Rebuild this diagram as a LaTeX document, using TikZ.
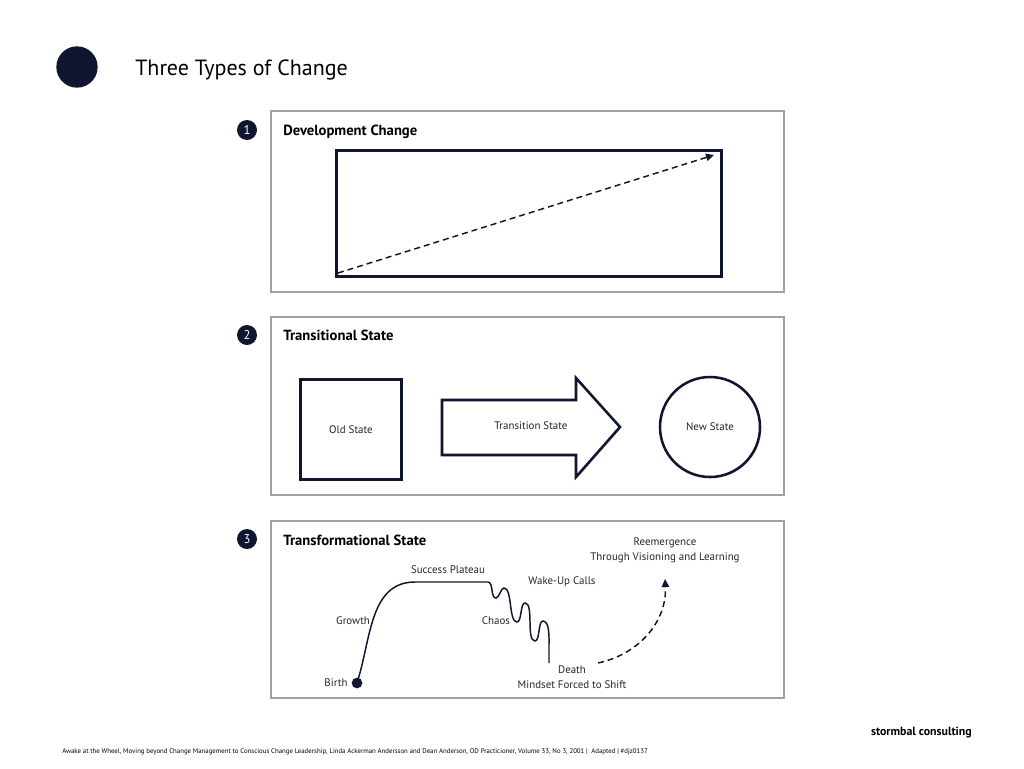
\documentclass[tikz,border=0pt]{standalone}
\usepackage{fontspec}
\setmainfont{PT Sans}
\usetikzlibrary{arrows.meta,shadows}
\definecolor{navy}{RGB}{16,22,48}
\definecolor{panelgrey}{RGB}{160,160,160}
\begin{document}
\begin{tikzpicture}[x=0.75pt,y=-0.75pt,
 panel/.style={draw=panelgrey,line width=0.9pt},
 numdot/.style={circle,fill=navy,text=white,inner sep=0pt,minimum size=15pt,font=\fontsize{9.5}{10}\selectfont},
 ptitle/.style={anchor=west,font=\fontsize{11}{12}\selectfont\bfseries,inner sep=0pt},
 shapetwo/.style={draw=navy,line width=1.9pt,fill=white,drop shadow={opacity=0.25,shadow xshift=1pt,shadow yshift=-1pt}},
 lbl/.style={font=\fontsize{8.2}{9.5}\selectfont,inner sep=0pt,text=black!85},
 curve/.style={draw=navy,line width=1.1pt},
 dasharrow/.style={draw=navy,line width=1.1pt,dash pattern=on 4.5pt off 3pt,-{Triangle[length=6pt,width=5.5pt]}},
]
\useasboundingbox (0,0) rectangle (1024,768);
\fill[white] (0,0) rectangle (1024,768);

% header
\node[circle,fill=navy,minimum size=31pt,inner sep=0pt] (logo) at (77,67) {};
\node[anchor=base west,inner sep=0pt,font=\fontsize{16.5}{18}\selectfont] (title) at (135,75) {Three Types of Change};

% ---------- panel 1
\draw[panel] (271,111) rectangle (784,292);
\node[numdot] (n1) at (247,130) {1};
\node[ptitle] (t1) at (283,131.5) {Development Change};
\node[shapetwo,minimum width=288.75pt,minimum height=94.5pt,anchor=north west,inner sep=0pt] (devbox) at (335,149) {};
\coordinate (dstart) at (338,273);
\coordinate (dend) at (714,155);
\draw[dasharrow] (dstart) -- (dend);

% ---------- panel 2
\draw[panel] (271,317) rectangle (784,495);
\node[numdot] (n2) at (247,335) {2};
\node[ptitle] (t2) at (283,335.5) {Transitional State};
\node[shapetwo,minimum width=76pt,minimum height=75pt,inner sep=0pt,lbl] (old) at (351,429.5) {Old State};
\coordinate (a1) at (442,400);
\coordinate (a2) at (576,400);
\coordinate (a3) at (576,378);
\coordinate (a4) at (620,427);
\coordinate (a5) at (576,477);
\coordinate (a6) at (576,455);
\coordinate (a7) at (442,455);
\draw[shapetwo] (a1) -- (a2) -- (a3) -- (a4) -- (a5) -- (a6) -- (a7) -- cycle;
\node[lbl] (trans) at (531,426) {Transition State};
\node[shapetwo,circle,minimum size=75pt,inner sep=0pt,lbl] (new) at (710,427) {New State};

% ---------- panel 3
\draw[panel] (271,521) rectangle (784,698);
\node[numdot] (n3) at (247,539) {3};
\node[ptitle] (t3) at (283,540.5) {Transformational State};

\node[circle,fill=navy,minimum size=8pt,inner sep=0pt] (birth) at (357,683) {};
\coordinate (p1) at (415,582);
\coordinate (p2) at (488,582);
\coordinate (w1) at (496,598);
\coordinate (w2) at (504,588);
\coordinate (w3) at (517,622);
\coordinate (w4) at (525,603);
\coordinate (w5) at (535,641);
\coordinate (w6) at (543,621);
\coordinate (w7) at (549,645);
\coordinate (death) at (549,663);
\draw[curve] (birth.center) to[out=72,in=180] (p1) -- (p2)
  to[out=-5,in=180,looseness=0.8] (w1) to[out=0,in=180,looseness=0.6] (w2) to[out=0,in=180,looseness=0.6] (w3)
  to[out=0,in=180,looseness=0.6] (w4) to[out=0,in=180,looseness=0.6] (w5) to[out=0,in=180,looseness=0.6] (w6)
  to[out=0,in=90,looseness=0.7] (w7) -- (death);

\coordinate (rs) at (598,663);
\coordinate (re) at (665,579);
\draw[dasharrow] (rs) to[out=12,in=-87] (re);

\node[lbl,align=center] (reem) at (665,550) {Reemergence\\[1.5pt]Through Visioning and Learning};
\node[lbl] (lsp) at (448,570) {Success Plateau};
\node[lbl] (lwake) at (562,582) {Wake-Up Calls};
\node[lbl] (lgrowth) at (353,621) {Growth};
\node[lbl] (lchaos) at (496,621) {Chaos};
\node[lbl,align=center] (ldeath) at (572,677.5) {Death\\[1.5pt]Mindset Forced to Shift};
\node[lbl] (lbirth) at (336,683) {Birth};

% footer
\node[anchor=east,inner sep=0pt,font=\fontsize{8.9}{10}\selectfont\bfseries] (brand) at (972,733) {stormbal consulting};
\node[anchor=west,inner sep=0pt,font=\fontsize{5.1}{6}\selectfont] (cite) at (62,752) {Awake at the Wheel, Moving beyond Change Management to Conscious Change Leadership, Linda Ackerman Andersson and Dean Anderson, OD Practicioner, Volume 33, No 3, 2001 | \ Adapted | \#djz0137};
\end{tikzpicture}
\end{document}
